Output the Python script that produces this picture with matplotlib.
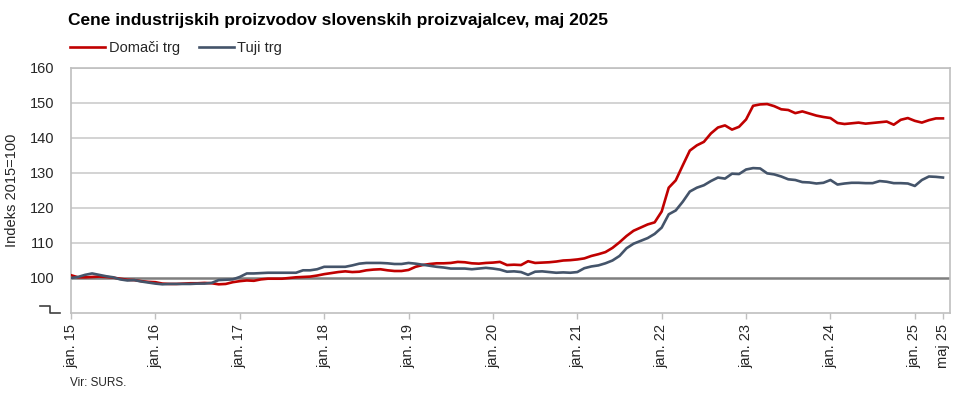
import matplotlib
matplotlib.use("Agg")
import matplotlib.pyplot as plt
from matplotlib.lines import Line2D

# ── Data (monthly, jan. 2015 – maj 2025) ─────────────────────────────────────
domaci_trg = [
    # 2015
    100.8, 100.2, 100.2, 100.3, 100.4, 100.3, 100.1, 99.8, 99.5, 99.4, 99.1, 98.9,
    # 2016
    98.8, 98.4, 98.3, 98.3, 98.4, 98.5, 98.5, 98.6, 98.5, 98.2, 98.3, 98.8,
    # 2017
    99.1, 99.3, 99.2, 99.6, 99.8, 99.8, 99.8, 100.0, 100.2, 100.3, 100.4, 100.7,
    # 2018
    101.1, 101.4, 101.7, 101.9, 101.7, 101.8, 102.2, 102.4, 102.5, 102.2, 102.0, 102.0,
    # 2019
    102.3, 103.2, 103.7, 104.0, 104.2, 104.2, 104.3, 104.6, 104.5, 104.2, 104.1, 104.3,
    # 2020
    104.4, 104.6, 103.7, 103.8, 103.7, 104.8, 104.3, 104.4, 104.5, 104.7, 105.0, 105.1,
    # 2021
    105.3, 105.6, 106.3, 106.8, 107.4, 108.6, 110.2, 112.0, 113.5, 114.4, 115.3, 115.9,
    # 2022
    119.0, 125.8, 127.9, 132.2, 136.4, 137.9, 138.9, 141.3, 143.0, 143.6, 142.4, 143.2,
    # 2023
    145.3, 149.2, 149.6, 149.7, 149.1, 148.2, 148.0, 147.1, 147.6, 147.0, 146.4, 146.0,
    # 2024
    145.7, 144.3, 144.0, 144.2, 144.4, 144.1, 144.3, 144.5, 144.7, 143.8, 145.2, 145.7,
    # 2025
    144.9, 144.4, 145.1, 145.6, 145.6,
]

tuji_trg = [
    # 2015
    100.0, 100.3, 100.9, 101.3, 100.9, 100.5, 100.2, 99.6, 99.3, 99.4, 99.0, 98.7,
    # 2016
    98.4, 98.2, 98.3, 98.3, 98.3, 98.3, 98.4, 98.4, 98.6, 99.4, 99.5, 99.6,
    # 2017
    100.3, 101.3, 101.3, 101.4, 101.5, 101.5, 101.5, 101.5, 101.5, 102.2, 102.2, 102.5,
    # 2018
    103.2, 103.2, 103.2, 103.2, 103.6, 104.1, 104.3, 104.3, 104.3, 104.2, 104.0, 104.0,
    # 2019
    104.3, 104.1, 103.8, 103.5, 103.2, 103.0, 102.7, 102.7, 102.7, 102.5, 102.7, 102.9,
    # 2020
    102.7, 102.4, 101.8, 101.9, 101.7, 100.9, 101.8, 101.9, 101.7, 101.5, 101.6, 101.5,
    # 2021
    101.7, 102.8, 103.3, 103.6, 104.2, 105.0, 106.3, 108.5, 109.8, 110.6, 111.4, 112.6,
    # 2022
    114.4, 118.2, 119.3, 121.8, 124.7, 125.8, 126.5, 127.7, 128.7, 128.4, 129.8, 129.7,
    # 2023
    131.0, 131.4, 131.3, 129.9, 129.6, 129.0, 128.2, 128.0, 127.4, 127.3, 127.0, 127.2,
    # 2024
    128.0, 126.7, 127.0, 127.2, 127.2, 127.1, 127.1, 127.7, 127.5, 127.1, 127.1, 127.0,
    # 2025
    126.3, 128.0, 129.0, 128.9, 128.7,
]

tick_months = [0, 12, 24, 36, 48, 60, 72, 84, 96, 108, 120, 124]
tick_labels = ["jan. 15", "jan. 16", "jan. 17", "jan. 18", "jan. 19", "jan. 20",
               "jan. 21", "jan. 22", "jan. 23", "jan. 24", "jan. 25", "maj 25"]
y_ticks = [100, 110, 120, 130, 140, 150, 160]

# ── Style ────────────────────────────────────────────────────────────────────
RED = "#C00000"
BLUE = "#44546A"
GRID = "#D0D0D0"
SPINE = "#BFBFBF"
TEXT = "#262626"

plt.rcParams["font.family"] = ["Liberation Sans", "DejaVu Sans"]

W, H = 960, 394
fig = plt.figure(figsize=(W / 100, H / 100), dpi=100, facecolor="white")

left, right, top, bottom = 71, 950, 68, 313
ax = fig.add_axes([left / W, 1 - bottom / H, (right - left) / W, (bottom - top) / H])

months = list(range(len(domaci_trg)))
ax.plot(months, domaci_trg, color=RED, lw=1.9, zorder=3, solid_joinstyle="round")
ax.plot(months, tuji_trg, color=BLUE, lw=1.9, zorder=3, solid_joinstyle="round")

ax.set_xlim(0, 125)
ax.set_ylim(90, 160)

# gridlines + heavier 100 line
for v in y_ticks[1:]:
    ax.axhline(v, color=GRID, lw=1.3, zorder=1)
ax.axhline(100, color="#7F7F7F", lw=1.8, zorder=2)

ax.set_yticks(y_ticks)
ax.set_yticklabels([str(v) for v in y_ticks], fontsize=10.5, color=TEXT)
ax.tick_params(axis="y", length=0, pad=12)

ax.set_xticks(tick_months)
ax.set_xticklabels(tick_labels, rotation=90, fontsize=10.5, color=TEXT, va="top")
ax.tick_params(axis="x", length=4, color=SPINE, width=1, pad=4)

for spine in ax.spines.values():
    spine.set_color(SPINE)
    spine.set_linewidth(1.2)

ax.set_ylabel("Indeks 2015=100", fontsize=10.5, color=TEXT, labelpad=8)

# axis-break mark at the bottom of the value axis
bx = [40 / W, 50 / W, 50 / W, 60 / W]
by = [1 - 306 / H, 1 - 306 / H, 1 - 313 / H, 1 - 313 / H]
fig.add_artist(Line2D(bx, by, color="#404040", lw=1.2, transform=fig.transFigure))

# title
fig.text(68 / W, 1 - 20 / H, "Cene industrijskih proizvodov slovenskih proizvajalcev, maj 2025",
         fontsize=12.5, fontweight="bold", color="black", ha="left", va="center")

# legend
handles = [Line2D([], [], color=RED, lw=1.9), Line2D([], [], color=BLUE, lw=1.9)]
fig.legend(handles, ["Domači trg", "Tuji trg"], loc="center left",
           bbox_to_anchor=(70 / W, 1 - 48 / H), ncol=2, frameon=False,
           fontsize=10.5, handlelength=2.4, handletextpad=0.25, columnspacing=1.3,
           labelcolor=TEXT, borderaxespad=0, borderpad=0)

# source
fig.text(70 / W, 1 - 383 / H, "Vir: SURS.", fontsize=8.5, color=TEXT,
         ha="left", va="center")

plt.savefig("out.png", dpi=100, facecolor="white")
plt.close(fig)
